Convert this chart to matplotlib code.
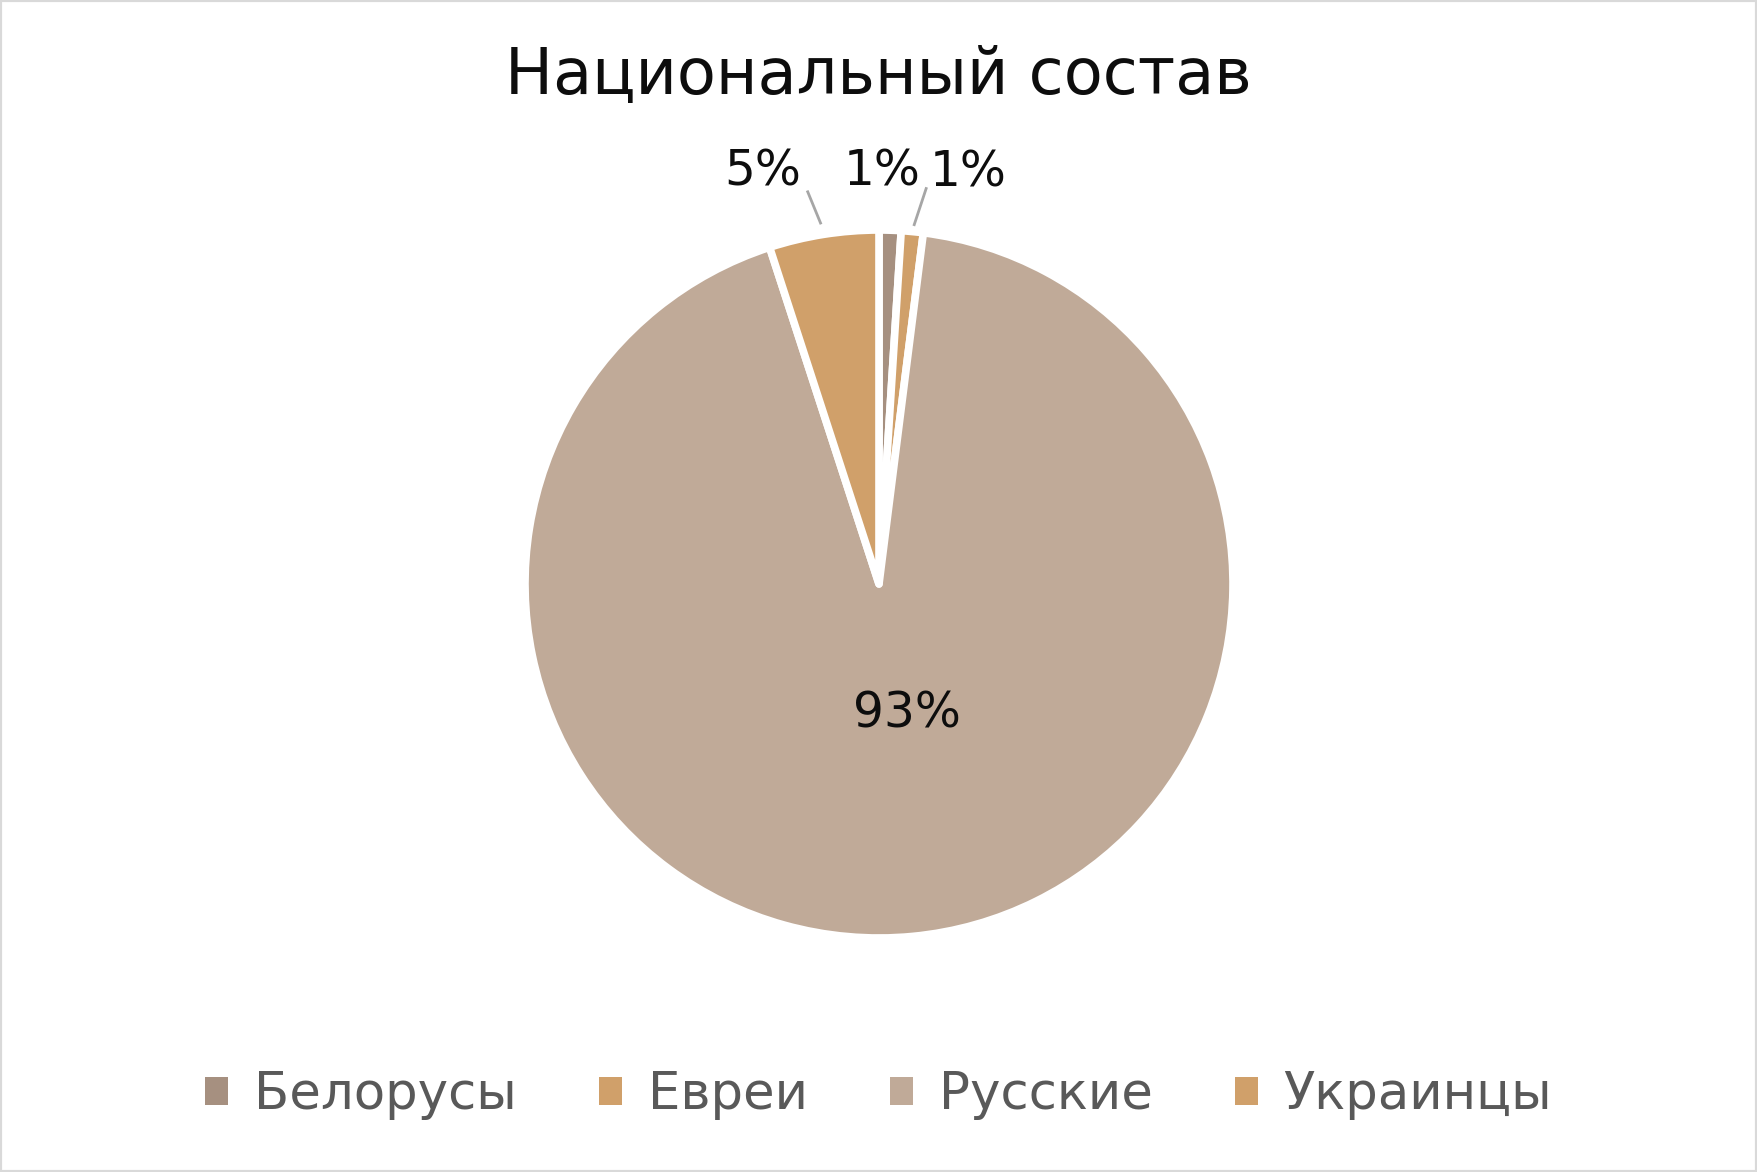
import matplotlib.pyplot as plt
from matplotlib.patches import Rectangle
import numpy as np

# data
nations = ['Белорусы', 'Евреи', 'Русские', 'Украинцы']
shares = [1, 1, 93, 5]
colors = ['#A69080', '#D0A06A', '#C0AA98', '#D0A06A']
title = 'Национальный состав'

W, H = 1757, 1172
fig = plt.figure(figsize=(W / 100, H / 100), dpi=100)
plt.rcParams['font.family'] = ['DejaVu Sans']

# pie centre and radius in pixels
cx, cy, r = 879, 584, 354
ax = fig.add_axes([(cx - r) / W, (H - cy - r) / H, 2 * r / W, 2 * r / H])

wedges, _ = ax.pie(shares, colors=colors, startangle=90, counterclock=False,
                   radius=1, wedgeprops=dict(edgecolor='white', linewidth=5.5,
                                             joinstyle='round'))
ax.set_xlim(-1, 1)
ax.set_ylim(-1, 1)
ax.axis('off')

# label placement (angle in deg, radius) and optional leader lines
label_pos = [(89.6, 1.165), (77.8, 1.19), (-78, 0.375), (105.8, 1.21)]
leaders = [None, ((84.4, 1.02), (83.2, 1.125)), None, ((99.2, 1.033), (100.3, 1.126))]

total = sum(shares)
for val, (ang, rad), ld in zip(shares, label_pos, leaders):
    a = np.radians(ang)
    ax.text(rad * np.cos(a), rad * np.sin(a), f'{round(100 * val / total)}%',
            ha='center', va='center', fontsize=35, color='#0D0D0D', clip_on=False)
    if ld:
        (a1, r1), (a2, r2) = ld
        a1, a2 = np.radians(a1), np.radians(a2)
        ax.plot([r1 * np.cos(a1), r2 * np.cos(a2)], [r1 * np.sin(a1), r2 * np.sin(a2)],
                color='#A6A6A6', linewidth=2, clip_on=False)

fig.text(0.5, 1 - 76 / H, title, ha='center', va='center', fontsize=46, color='#0D0D0D')

handles = [Rectangle((0, 0), 1, 1, facecolor=c) for c in colors]
fig.legend(handles, nations, loc='center', bbox_to_anchor=(0.5, 1 - 1095 / H), ncol=4,
           frameon=False, fontsize=37, labelcolor='#595959', handlelength=0.45,
           handleheight=0.45, handletextpad=0.5, columnspacing=1.6)

fig.patches.append(Rectangle((0, 0), 1, 1, transform=fig.transFigure, fill=False,
                             edgecolor='#D9D9D9', linewidth=3))

fig.savefig('out.png', dpi=100, facecolor='white')
